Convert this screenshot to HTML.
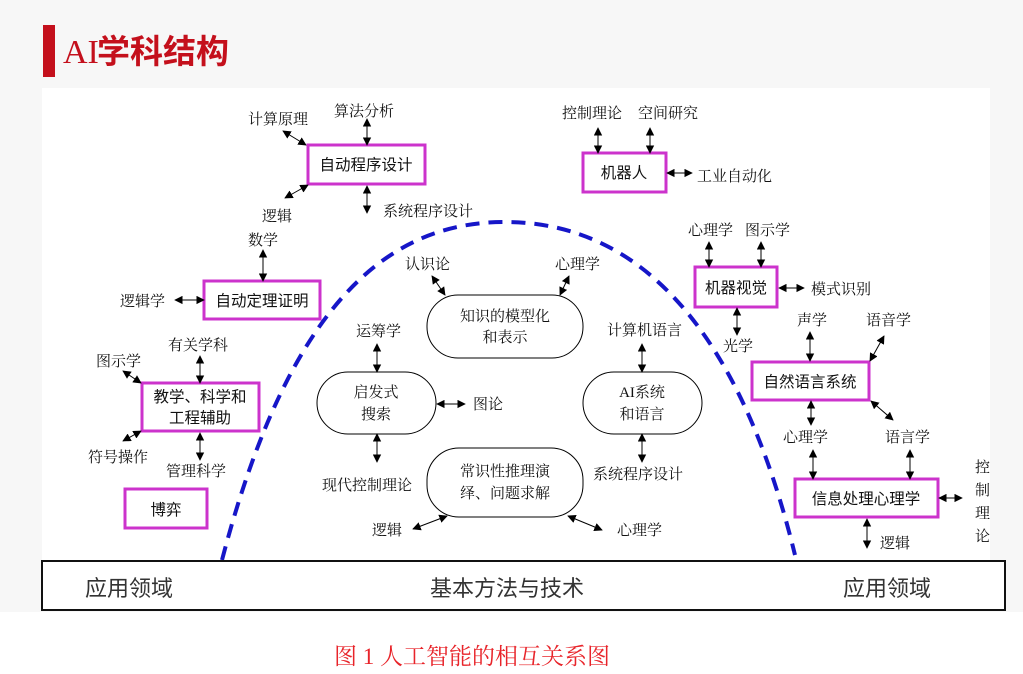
<!DOCTYPE html>
<html><head><meta charset="utf-8"><style>
html,body{margin:0;padding:0;background:#f7f7f7;}
svg{display:block;}
text{font-family:"Liberation Serif","Noto Serif CJK SC",serif;font-size:15px;fill:#111;}
.b{font-family:"Liberation Sans","Noto Sans CJK SC",sans-serif;font-size:15.5px;}
</style></head><body>
<svg width="1023" height="674" viewBox="0 0 1023 674" xmlns="http://www.w3.org/2000/svg">
<defs>
<marker id="a" viewBox="0 0 10 10" refX="9" refY="5" markerWidth="8.5" markerHeight="8.5" orient="auto-start-reverse"><path d="M0,0 L10,5 L0,10 z" fill="#000"/></marker>
</defs>
<rect x="0" y="0" width="1023" height="674" fill="#f7f7f7"/>
<rect x="42" y="88" width="948" height="480" fill="#fff"/>
<rect x="0" y="612" width="1023" height="62" fill="#fff"/>
<!-- title -->
<rect x="43" y="25" width="12" height="52" fill="#c4101c"/>
<text x="63" y="63" style="font-family:'Liberation Serif',serif;font-size:34px;fill:#c4101c;">AI</text>
<text x="97" y="63" style="font-family:'Liberation Sans','Noto Sans CJK SC',sans-serif;font-size:33px;font-weight:bold;fill:#c4101c;">学科结构</text>
<!-- dashed curve -->
<path d="M222,560 C290,300 390,222 505,222 C640,222 740,330 795,555" fill="none" stroke="#1616c8" stroke-width="4" stroke-dasharray="14,9"/>
<!-- magenta boxes -->
<g fill="#fff" stroke="#cc33cc" stroke-width="3">
<rect x="308" y="145" width="117" height="39"/>
<rect x="583" y="153" width="83" height="39"/>
<rect x="204" y="281" width="116" height="38"/>
<rect x="695" y="267" width="82" height="40"/>
<rect x="752" y="362" width="117" height="38"/>
<rect x="142" y="383" width="117" height="48"/>
<rect x="125" y="489" width="82" height="39"/>
<rect x="795" y="479" width="143" height="38"/>
</g>
<!-- rounded nodes -->
<g fill="#fff" stroke="#000" stroke-width="1">
<rect x="427" y="295" width="156" height="63" rx="31"/>
<rect x="317" y="372" width="119" height="62" rx="31"/>
<rect x="583" y="372" width="119" height="62" rx="31"/>
<rect x="427" y="448" width="156" height="69" rx="32"/>
</g>
<!-- box texts -->
<g class="b" text-anchor="middle">
<text class="b" x="366" y="170">自动程序设计</text>
<text class="b" x="624" y="178">机器人</text>
<text class="b" x="262" y="306">自动定理证明</text>
<text class="b" x="736" y="293">机器视觉</text>
<text class="b" x="810" y="387">自然语言系统</text>
<text class="b" x="200" y="402">教学、科学和</text>
<text class="b" x="200" y="423">工程辅助</text>
<text class="b" x="166" y="515">博弈</text>
<text class="b" x="866" y="504">信息处理心理学</text>
</g>
<g text-anchor="middle">
<text x="505" y="321">知识的模型化</text><text x="505" y="342">和表示</text>
<text x="376" y="397">启发式</text><text x="376" y="419">搜索</text>
<text x="642" y="397">AI系统</text><text x="642" y="419">和语言</text>
<text x="505" y="476">常识性推理演</text><text x="505" y="498">绎、问题求解</text>
</g>
<!-- labels -->
<g>
<text x="248" y="124">计算原理</text>
<text x="334" y="116">算法分析</text>
<text x="262" y="221">逻辑</text>
<text x="248" y="245">数学</text>
<text x="383" y="216">系统程序设计</text>
<text x="120" y="306">逻辑学</text>
<text x="168" y="350">有关学科</text>
<text x="96" y="366">图示学</text>
<text x="88" y="462">符号操作</text>
<text x="166" y="476">管理科学</text>
<text x="405" y="269">认识论</text>
<text x="555" y="269">心理学</text>
<text x="356" y="336">运筹学</text>
<text x="473" y="409">图论</text>
<text x="322" y="490">现代控制理论</text>
<text x="372" y="535">逻辑</text>
<text x="617" y="535">心理学</text>
<text x="607" y="335">计算机语言</text>
<text x="593" y="479">系统程序设计</text>
<text x="562" y="118">控制理论</text>
<text x="638" y="118">空间研究</text>
<text x="697" y="181">工业自动化</text>
<text x="688" y="235">心理学</text>
<text x="745" y="235">图示学</text>
<text x="811" y="294">模式识别</text>
<text x="723" y="351">光学</text>
<text x="797" y="325">声学</text>
<text x="866" y="325">语音学</text>
<text x="783" y="442">心理学</text>
<text x="885" y="442">语言学</text>
<text x="975" y="472">控</text><text x="975" y="495">制</text><text x="975" y="518">理</text><text x="975" y="541">论</text>
<text x="880" y="548">逻辑</text>
</g>
<!-- arrows -->
<g stroke="#000" stroke-width="1" marker-start="url(#a)" marker-end="url(#a)">
<line x1="283" y1="131" x2="306" y2="145"/>
<line x1="367" y1="119" x2="367" y2="145"/>
<line x1="285" y1="198" x2="308" y2="185"/>
<line x1="367" y1="186" x2="367" y2="213"/>
<line x1="263" y1="250" x2="263" y2="281"/>
<line x1="175" y1="300" x2="204" y2="300"/>
<line x1="200" y1="356" x2="200" y2="383"/>
<line x1="123" y1="371" x2="141" y2="383"/>
<line x1="123" y1="441" x2="141" y2="431"/>
<line x1="200" y1="433" x2="200" y2="460"/>
<line x1="432" y1="276" x2="445" y2="295"/>
<line x1="569" y1="276" x2="560" y2="295"/>
<line x1="377" y1="344" x2="377" y2="372"/>
<line x1="377" y1="434" x2="377" y2="462"/>
<line x1="437" y1="404" x2="465" y2="404"/>
<line x1="642" y1="344" x2="642" y2="372"/>
<line x1="642" y1="434" x2="642" y2="462"/>
<line x1="447" y1="516" x2="413" y2="529"/>
<line x1="568" y1="516" x2="602" y2="530"/>
<line x1="598" y1="128" x2="598" y2="153"/>
<line x1="650" y1="128" x2="650" y2="153"/>
<line x1="667" y1="173" x2="692" y2="173"/>
<line x1="709" y1="242" x2="709" y2="267"/>
<line x1="761" y1="242" x2="761" y2="267"/>
<line x1="779" y1="288" x2="804" y2="288"/>
<line x1="737" y1="308" x2="737" y2="335"/>
<line x1="810" y1="332" x2="810" y2="361"/>
<line x1="884" y1="336" x2="870" y2="361"/>
<line x1="811" y1="401" x2="811" y2="425"/>
<line x1="871" y1="401" x2="893" y2="420"/>
<line x1="813" y1="450" x2="813" y2="479"/>
<line x1="910" y1="450" x2="910" y2="479"/>
<line x1="939" y1="498" x2="962" y2="498"/>
<line x1="867" y1="519" x2="867" y2="548"/>
</g>
<!-- bottom bar -->
<rect x="42" y="561" width="963" height="49" fill="#fff" stroke="#111" stroke-width="2"/>
<text x="85" y="596" style="font-size:22px;font-family:'Liberation Sans','Noto Sans CJK SC',sans-serif;fill:#333;">应用领域</text>
<text x="507" y="596" text-anchor="middle" style="font-size:22px;font-family:'Liberation Sans','Noto Sans CJK SC',sans-serif;fill:#333;">基本方法与技术</text>
<text x="843" y="596" style="font-size:22px;font-family:'Liberation Sans','Noto Sans CJK SC',sans-serif;fill:#333;">应用领域</text>
<text x="472" y="664" text-anchor="middle" style="font-size:23px;fill:#e8242a;font-family:'Liberation Serif','Noto Serif CJK SC',serif;">图 1 人工智能的相互关系图</text>
</svg>
</body></html>
